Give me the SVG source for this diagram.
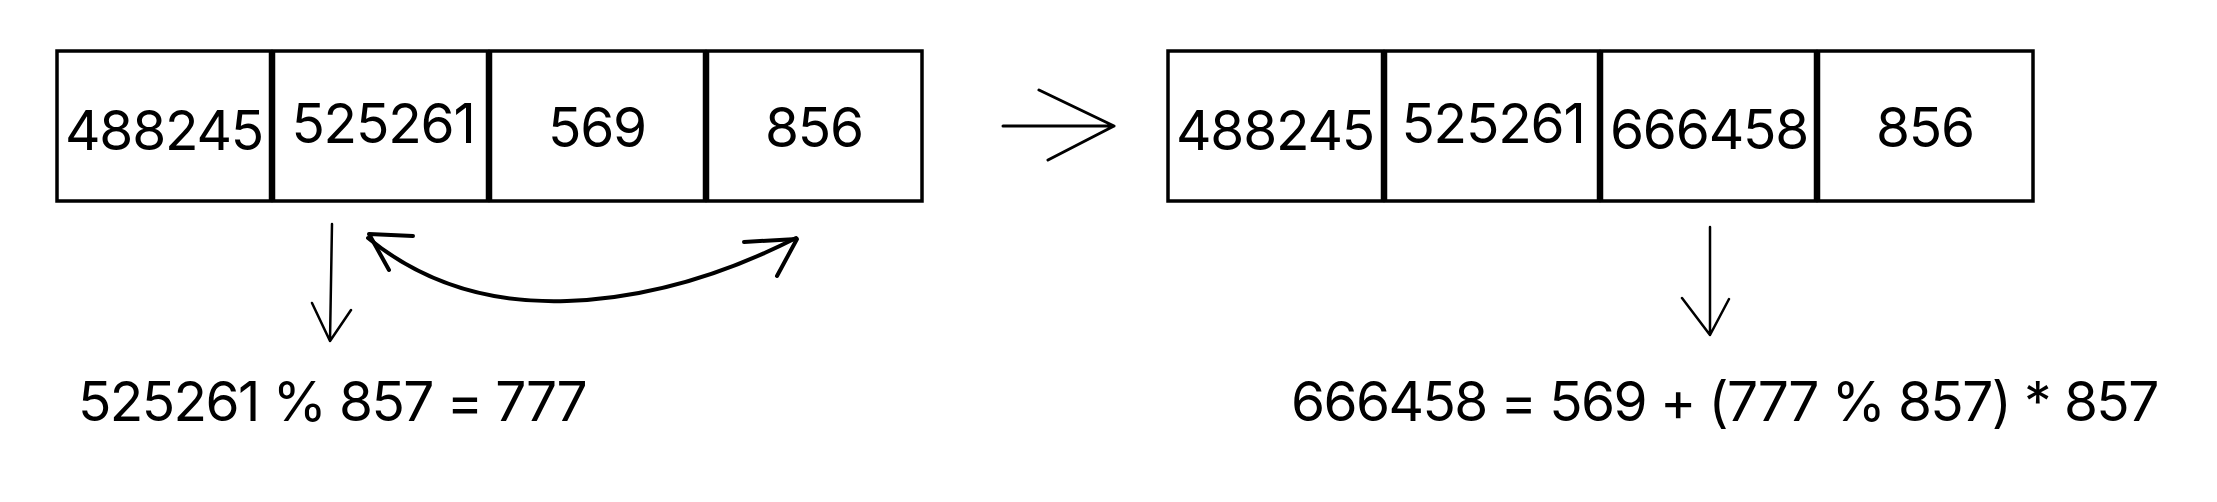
<svg xmlns="http://www.w3.org/2000/svg" width="2217" height="502" viewBox="0 0 2217 502">
<style>
.cell{fill:#ffffff;stroke:#000000;stroke-width:3.5}
.num{font-family:Inter,"Liberation Sans",sans-serif;font-size:55px;letter-spacing:-1.2px;fill:#000000;text-anchor:middle}
.eq{font-family:Inter,"Liberation Sans",sans-serif;font-size:55px;letter-spacing:-1.6px;fill:#000000}
.ln{fill:none;stroke:#000000;stroke-linecap:round;stroke-linejoin:round}
</style>
<rect width="2217" height="502" fill="#ffffff"/>
<g id="left-array">
<g id="l-cell-1"><rect class="cell" x="57" y="51" width="213.5" height="150"/><text class="num" x="164" y="150">488245</text></g>
<g id="l-cell-2"><rect class="cell" x="273.5" y="51" width="214" height="150"/><text class="num" x="383" y="143">525261</text></g>
<g id="l-cell-3"><rect class="cell" x="490.5" y="51" width="214" height="150"/><text class="num" x="597" y="147">569</text></g>
<g id="l-cell-4"><rect class="cell" x="707.5" y="51" width="214.5" height="150"/><text class="num" x="814" y="147">856</text></g>
</g>
<g id="right-array">
<g id="r-cell-1"><rect class="cell" x="1168" y="51" width="214.5" height="150"/><text class="num" x="1275" y="150">488245</text></g>
<g id="r-cell-2"><rect class="cell" x="1385.5" y="51" width="213" height="150"/><text class="num" x="1493" y="143">525261</text></g>
<g id="r-cell-3"><rect class="cell" x="1601.5" y="51" width="214" height="150"/><text class="num" x="1709" y="149">666458</text></g>
<g id="r-cell-4"><rect class="cell" x="1818.5" y="51" width="214.5" height="150"/><text class="num" x="1925" y="147">856</text></g>
</g>
<g id="formula-left"><text class="eq" x="78" y="421">525261 % 857 = 777</text></g>
<g id="formula-right"><text class="eq" x="1291" y="421">666458 = 569 + (777 % 857) * 857</text></g>
<g id="connectors">
<path class="ln" stroke-width="3" d="M1003,126 L1114,126 M1039,90 L1114,126 L1048,160"/>
<path class="ln" stroke-width="2.5" d="M332,224 L330,341 M312,303 L330,341 L351,310"/>
<path class="ln" stroke-width="2.5" d="M1710,227 L1710,335 M1682,298 L1710,335 L1729,299"/>
<path class="ln" stroke-width="4" d="M368,238 Q450,305 567,301 Q680,297 796,238"/>
<path class="ln" stroke-width="4" d="M413,236 L369,234 L389,270"/>
<path class="ln" stroke-width="4" d="M744,242 L797,239 L777,276"/>
</g>
</svg>
